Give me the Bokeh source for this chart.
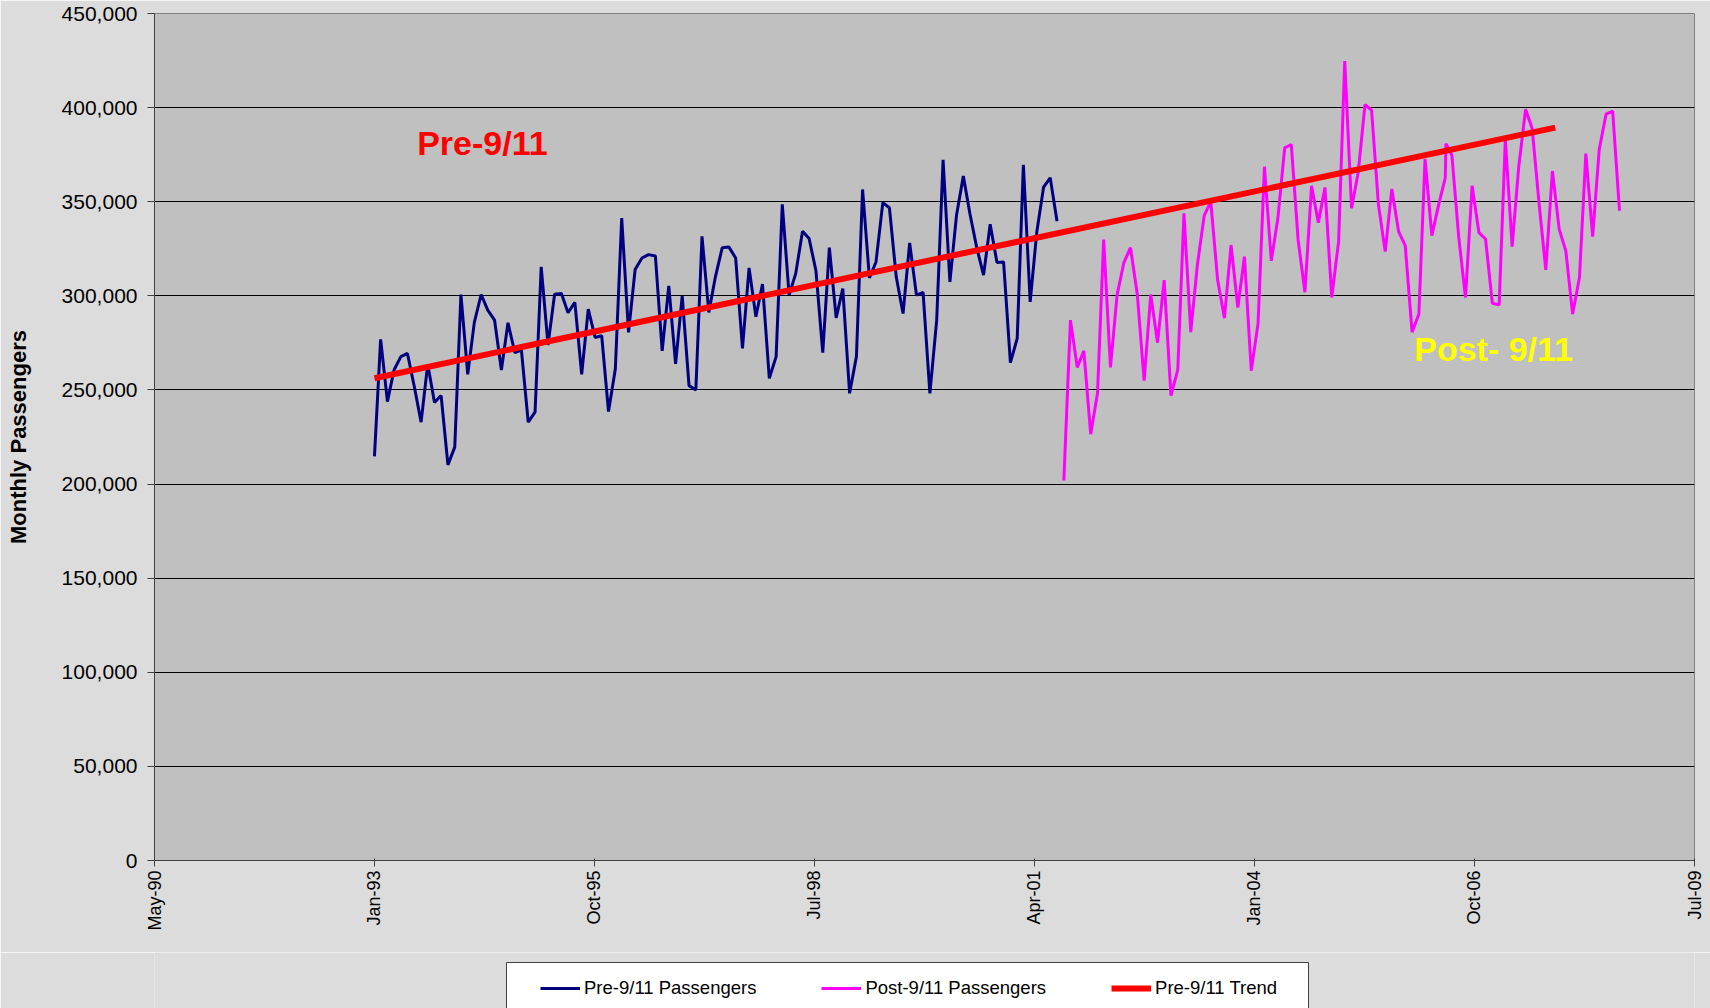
import pandas as pd
from bokeh.plotting import figure
from bokeh.layouts import column
from bokeh.models import (ColumnDataSource, Range1d, FixedTicker, DatetimeTickFormatter,
                          NumeralTickFormatter, Legend, LegendItem, Label, BoxAnnotation)
from bokeh.embed import file_html
from bokeh.resources import INLINE

# ---------------- data ----------------
# Monthly passengers before 9/11 (Jan 1993 - Jul 2001)
pre_start = "1993-01-01"
pre_values = [
    214700, 276900, 243800, 260600, 267700, 269400, 251800, 232900, 263600, 243300, 247000, 210200,
    219600, 300700, 258300, 285900, 300700, 292400, 287100, 260600, 285700, 269800, 271200, 232900,
    238200, 315400, 273900, 300900, 301200, 291000, 296500, 258300, 292900, 277900, 278800, 238500,
    261100, 341300, 280600, 314000, 320100, 321900, 321200, 270800, 305300, 263800, 300000, 252300,
    250000, 331600, 291200, 310100, 325600, 326000, 320100, 272100, 314800, 288900, 306200, 256200,
    267700, 348600, 300400, 311800, 334300, 330400, 313300, 269800, 325600, 288300, 303900, 248200,
    267700, 356500, 309500, 318000, 349500, 346800, 310100, 290600, 328100, 300400, 301800, 248200,
    287100, 372300, 307400, 342800, 363600, 343600, 325600, 311000, 338000, 317700, 318000, 264500,
    277400, 369600, 296800, 333900, 357800, 362700, 339600,
]

# Monthly passengers after 9/11 (Aug 2001 - Jul 2008), one extra reading in Jun 2006
post_start = "2001-08-01"
post_months = 84
post_extra_date = "2006-06-03"
post_extra_index = 58
post_values = [
    201900, 287100, 262000, 270800, 226500,
    248200, 329900, 262000, 300400, 317700, 325600, 300700, 254900, 300700, 275100, 308300, 247000,
    260800, 343800, 280700, 316400, 342600, 350000, 308500, 288200, 327000, 293800, 320800, 260200,
    285500, 368600, 318600, 341200, 378600, 380400, 329700, 301900, 358500, 338900, 357600, 299100,
    328800, 424700, 346500, 365400, 401600, 398600, 348600, 323500, 356700, 334100, 326700, 280700,
    290300, 372600, 332000, 347900, 362700, 380900, 374700, 331400, 299100, 358500, 333600, 330200, 296100,
    295200, 383200, 326100, 368600, 399100, 388900, 349600, 313800, 366300, 335300, 323900, 290300,
    309700, 375600, 331400, 377900, 396500, 398200, 345200,
]

# Pre-9/11 trend line end points
trend_dates = ["1993-01-31", "2007-10-13"]
trend_values = [256200, 389400]

# Axis ticks
x_tick_dates = ["1990-05-07", "1993-01-31", "1995-10-28", "1998-07-24",
                "2001-04-19", "2004-01-14", "2006-10-10", "2009-07-07"]
y_ticks = [0, 50000, 100000, 150000, 200000, 250000, 300000, 350000, 400000, 450000]

series_names = ["Pre-9/11 Passengers", "Post-9/11 Passengers", "Pre-9/11 Trend"]
series_colors = ["#000080", "#ff00ff", "#ff0000"]
annotations = ["Pre-9/11", "Post- 9/11"]

# ---------------- build sources ----------------
pre_dates = pd.date_range(pre_start, periods=len(pre_values), freq="MS") + pd.offsets.MonthEnd(0)
post_dates = list(pd.date_range(post_start, periods=post_months, freq="MS") + pd.offsets.MonthEnd(0))
post_dates.insert(post_extra_index, pd.Timestamp(post_extra_date))

pre_src = ColumnDataSource(dict(x=pre_dates, y=pre_values))
post_src = ColumnDataSource(dict(x=pd.DatetimeIndex(post_dates), y=post_values))
trend_src = ColumnDataSource(dict(x=pd.to_datetime(trend_dates), y=trend_values))


def ms(d):
    return pd.Timestamp(d).value / 1e6


FONT = "Liberation Sans"
BG = "#dcdcdc"

x_range = Range1d(ms(x_tick_dates[0]), ms(x_tick_dates[-1]))

p = figure(width=1710, height=952, x_axis_type="datetime",
           x_range=x_range,
           y_range=Range1d(y_ticks[0], y_ticks[-1]),
           output_backend="svg", toolbar_location=None,
           min_border_left=154, min_border_top=13, min_border_right=16, min_border_bottom=92)

p.background_fill_color = "#c0c0c0"
p.border_fill_color = BG
p.outline_line_color = "#808080"
p.outline_line_width = 1

line_widths = [3, 3, 6]
r_pre = p.line("x", "y", source=pre_src, line_color=series_colors[0], line_width=line_widths[0])
r_post = p.line("x", "y", source=post_src, line_color=series_colors[1], line_width=line_widths[1])
r_trend = p.line("x", "y", source=trend_src, line_color=series_colors[2], line_width=line_widths[2])

# x axis
xa = p.xaxis[0]
xa.ticker = FixedTicker(ticks=[ms(d) for d in x_tick_dates])
fmt = "%b-%y"
xa.formatter = DatetimeTickFormatter(milliseconds=fmt, seconds=fmt, minsec=fmt, minutes=fmt,
                                     hourmin=fmt, hours=fmt, days=fmt, months=fmt, years=fmt)
xa.major_label_orientation = 3.14159265 / 2
xa.major_label_text_font = FONT
xa.major_label_text_font_size = "18px"
xa.major_label_text_color = "#000000"
xa.major_tick_in = 2
xa.major_tick_out = 6
xa.minor_tick_line_color = None
xa.axis_line_color = "#404040"
xa.major_tick_line_color = "#404040"
xa.major_label_standoff = 4

# y axis
ya = p.yaxis[0]
ya.ticker = FixedTicker(ticks=y_ticks)
ya.formatter = NumeralTickFormatter(format="0,0")
ya.major_label_text_font = FONT
ya.major_label_text_font_size = "21px"
ya.major_label_text_color = "#000000"
ya.major_tick_in = 0
ya.major_tick_out = 7
ya.minor_tick_line_color = None
ya.axis_line_color = "#404040"
ya.major_tick_line_color = "#404040"
ya.major_label_standoff = 10
ya.axis_label = "Monthly Passengers"
ya.axis_label_text_font = FONT
ya.axis_label_text_font_size = "22px"
ya.axis_label_text_font_style = "bold"
ya.axis_label_text_color = "#000000"
ya.axis_label_standoff = 28

p.xgrid.visible = False
p.ygrid.ticker = FixedTicker(ticks=y_ticks)
p.ygrid.grid_line_color = "#000000"
p.ygrid.grid_line_width = 1

# annotations
p.add_layout(Label(x=ms("1993-08-13"), y=381000, text=annotations[0], text_color="#ff0000",
                   text_font=FONT, text_font_size="34px", text_font_style="bold",
                   text_baseline="alphabetic"))
p.add_layout(Label(x=ms("2006-01-10"), y=271500, text=annotations[1], text_color="#ffff00",
                   text_font=FONT, text_font_size="34px", text_font_style="bold",
                   text_baseline="alphabetic"))

# ---------------- legend strip ----------------
# Same series drawn again on a strip whose y window lies above all values, so only
# their legend glyphs show there.
strip_y = Range1d(460000, 470000)
lg = figure(width=1710, height=56, x_range=x_range, y_range=strip_y,
            output_backend="svg", toolbar_location=None,
            x_axis_location=None, y_axis_location=None,
            min_border_left=154, min_border_right=16, min_border_top=0, min_border_bottom=0)
lg.background_fill_color = BG
lg.border_fill_color = BG
lg.outline_line_color = None
lg.xgrid.visible = False
lg.ygrid.visible = False
k_pre = lg.line("x", "y", source=pre_src, line_color=series_colors[0], line_width=line_widths[0])
k_post = lg.line("x", "y", source=post_src, line_color=series_colors[1], line_width=line_widths[1])
k_trend = lg.line("x", "y", source=trend_src, line_color=series_colors[2], line_width=line_widths[2])

# white legend frame (wider than the item row, running off the bottom edge)
frame_w = 1540.0
span = x_range.end - x_range.start


def strip_x(px):
    return x_range.start + (px - 154) / frame_w * span


def strip_yv(py):
    return strip_y.end - (py - 952) / 56.0 * (strip_y.end - strip_y.start)


lg.add_layout(BoxAnnotation(left=strip_x(506), right=strip_x(1308),
                            top=strip_yv(962), bottom=strip_yv(1030),
                            fill_color="#ffffff", fill_alpha=1.0,
                            line_color="#404040", line_width=1, line_alpha=1.0))

legend = Legend(items=[LegendItem(label=series_names[0], renderers=[k_pre]),
                       LegendItem(label=series_names[1], renderers=[k_post]),
                       LegendItem(label=series_names[2], renderers=[k_trend])],
                orientation="horizontal", location=(386, 9),
                background_fill_alpha=0.0, border_line_color=None,
                label_text_font=FONT, label_text_font_size="18.5px", label_text_color="#000000",
                glyph_width=40, glyph_height=20, label_standoff=4, spacing=65,
                padding=0, margin=0)
lg.add_layout(legend)

layout = column(p, lg, spacing=0)
open("out.html", "w").write(file_html(layout, INLINE))
